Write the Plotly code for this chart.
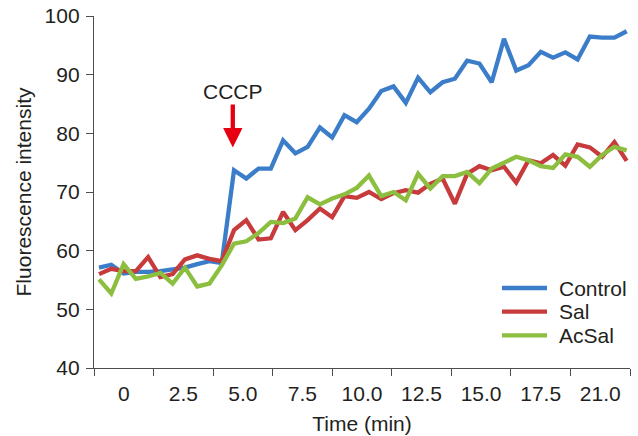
import numpy as np
import plotly.graph_objects as go

# ---- data ----
sample_index = list(range(44))  # one reading every ~0.5 min
control = [57.1, 57.6, 56.1, 56.4, 56.4, 56.5, 56.8, 57.1, 57.7, 58.2, 57.9,
           73.7, 72.3, 74.0, 74.0, 78.8, 76.6, 77.7, 81.0, 79.3, 83.1, 81.9, 84.2,
           87.2, 88.0, 85.2, 89.5, 87.0, 88.7, 89.3, 92.4, 91.9, 88.7,
           96.1, 90.7, 91.6, 93.9, 92.9, 93.8, 92.6, 96.5, 96.3, 96.3, 97.4]
sal = [56.0, 56.9, 56.5, 56.5, 58.9, 55.5, 56.0, 58.5, 59.2, 58.6, 58.2,
       63.5, 65.2, 61.9, 62.1, 66.6, 63.5, 65.2, 67.2, 65.7, 69.3, 69.0, 70.0,
       68.8, 69.8, 70.3, 69.9, 71.4, 72.3, 68.0, 73.1, 74.4, 73.7,
       74.3, 71.6, 75.4, 74.9, 76.3, 74.5, 78.1, 77.6, 76.0, 78.5, 75.3]
acsal = [55.1, 52.7, 57.7, 55.2, 55.6, 56.2, 54.4, 57.1, 53.9, 54.4, 57.5,
         61.2, 61.6, 63.0, 64.9, 64.7, 65.5, 69.1, 67.9, 68.9, 69.6, 70.7, 72.8,
         69.3, 70.0, 68.6, 73.1, 70.6, 72.7, 72.7, 73.4, 71.5, 74.0,
         74.9, 76.0, 75.4, 74.4, 74.1, 76.4, 76.0, 74.3, 76.3, 77.7, 77.1]
series_names = ["Control", "Sal", "AcSal"]
x_tick_labels = ["0", "2.5", "5.0", "7.5", "10.0", "12.5", "15.0", "17.5", "21.0"]
y_tick_values = [40, 50, 60, 70, 80, 90, 100]
cccp_index = 10.9
cccp_level = 77.6

# ---- styling ----
colors = ["#3b7dc9", "#c73b3c", "#8cbf3f"]
FONT = "Liberation Sans, Arial, sans-serif"
TXT = "#231f20"
AX = "#4d4d4d"
FS = 21

W, H = 638, 436
ML, MR, MT, MB = 94, 8, 16, 68
PW, PH = W - ML - MR, H - MT - MB

x_lo, x_hi = -0.41, 43.27
bounds = np.linspace(x_lo, x_hi, len(x_tick_labels) + 1)
centers = (bounds[:-1] + bounds[1:]) / 2

fig = go.Figure()
for name, vals, col in zip(series_names, [control, sal, acsal], colors):
    fig.add_trace(go.Scatter(x=sample_index, y=vals, mode="lines", name=name,
                             line=dict(color=col, width=4.3), showlegend=False))
# helper trace for the label axis
fig.add_trace(go.Scatter(x=[None], y=[None], xaxis="x2", showlegend=False,
                         hoverinfo="skip"))

fig.add_annotation(x=cccp_index, y=cccp_level, text="CCCP", showarrow=True,
                   ax=0, ay=-56, arrowcolor="#e60012", arrowwidth=4.3,
                   arrowhead=2, arrowsize=0.9, standoff=0,
                   font=dict(family=FONT, size=FS, color=TXT))

# legend drawn as key lines + labels (pixel layout inside the plot area)
leg_x0, leg_x1, leg_tx = 502, 547, 557
leg_y0, leg_dy = 288, 23.7
def px_to_paper_x(px):
    return (px - ML) / PW
def py_to_paper_y(py):
    return (H - MB - py) / PH
for i, (name, col) in enumerate(zip(series_names, colors)):
    yp = py_to_paper_y(leg_y0 + i * leg_dy)
    fig.add_shape(type="line", xref="paper", yref="paper",
                  x0=px_to_paper_x(leg_x0), x1=px_to_paper_x(leg_x1), y0=yp, y1=yp,
                  line=dict(color=col, width=4.3))
    fig.add_annotation(xref="paper", yref="paper", x=px_to_paper_x(leg_tx), y=yp,
                       text=name, showarrow=False, xanchor="left", yanchor="middle",
                       font=dict(family=FONT, size=FS, color=TXT))

fig.update_layout(
    width=W, height=H,
    margin=dict(l=ML, r=MR, t=MT, b=MB, autoexpand=False),
    paper_bgcolor="white", plot_bgcolor="white",
    font=dict(family=FONT, size=FS, color=TXT),
    showlegend=False,
    xaxis=dict(range=[x_lo, x_hi], tickmode="array", tickvals=list(bounds),
               ticktext=[""] * len(bounds), ticks="outside", ticklen=7,
               tickcolor=AX, tickwidth=1.3, showline=True, linecolor=AX,
               linewidth=1.3, showgrid=False, zeroline=False, automargin=False),
    xaxis2=dict(overlaying="x", anchor="y", side="bottom", range=[x_lo, x_hi],
                tickmode="array", tickvals=list(centers), ticktext=x_tick_labels,
                ticks="", showline=False, showgrid=False, zeroline=False,
                automargin=False, ticklabelstandoff=11,
                tickfont=dict(family=FONT, size=FS, color=TXT),
                title=dict(text="Time (min)", font=dict(family=FONT, size=FS, color=TXT),
                           standoff=12)),
    yaxis=dict(range=[40, 100], tickmode="array", tickvals=y_tick_values,
               ticks="outside", ticklen=7, tickcolor=AX, tickwidth=1.3,
               showline=True, linecolor=AX, linewidth=1.3, showgrid=False,
               zeroline=False, automargin=False, ticklabelstandoff=2,
               tickfont=dict(family=FONT, size=FS, color=TXT),
               title=dict(text="Fluorescence intensity",
                          font=dict(family=FONT, size=FS, color=TXT), standoff=7)),
)

# remove the browser's default page margin so the figure fills the window
fig.write_html("out.html", config={"displayModeBar": False},
               post_script="document.body.style.margin='0';document.body.style.overflow='hidden';")
